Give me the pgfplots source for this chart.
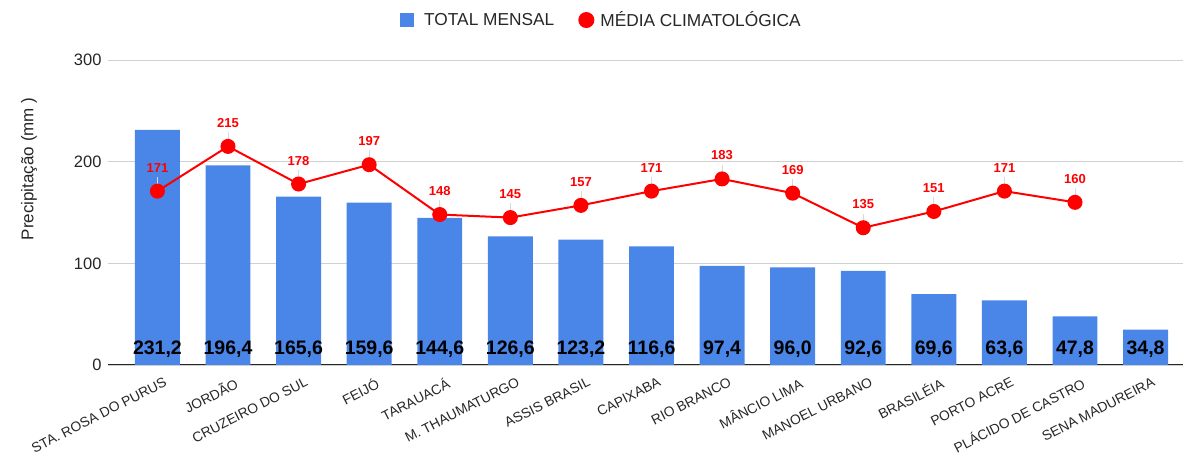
\documentclass[border=0pt]{standalone}
\usepackage{fontspec}
\setmainfont{Liberation Sans}
\usepackage{pgfplots}
\pgfplotsset{compat=1.18}
\usepackage{pgfplotstable}
\definecolor{barblue}{HTML}{4A86E8}
\definecolor{gridgray}{HTML}{D0D0D0}
\definecolor{ptred}{HTML}{FF0000}

% x, total mensal, media climatologica, base dos rotulos
\pgfplotstableread{
x total media base
0  231.2 171 0
1  196.4 215 0
2  165.6 178 0
3  159.6 197 0
4  144.6 148 0
5  126.6 145 0
6  123.2 157 0
7  116.6 171 0
8  97.4  183 0
9  96.0  169 0
10 92.6  135 0
11 69.6  151 0
12 63.6  171 0
13 47.8  160 0
14 34.8  nan 0
}\dados

\begin{document}
\begin{tikzpicture}
\useasboundingbox (-108pt,-92pt) rectangle (1075pt,365pt);
\begin{axis}[
    at={(0,0)}, anchor=south west,
    scale only axis, width=1075pt, height=305pt,
    xmin=-0.70, xmax=14.53, ymin=0, ymax=300,
    axis lines*=left,
    y axis line style={draw=none},
    x axis line style={black!85, line width=1pt},
    ytick={0,100,200,300},
    ymajorgrids, grid style={gridgray, line width=0.8pt},
    major tick length=0pt,
    xtick={0,...,14},
    xticklabels={STA. ROSA DO PURUS, JORDÃO, CRUZEIRO DO SUL, FEIJÓ, TARAUACÁ,
      M. THAUMATURGO, ASSIS BRASIL, CAPIXABA, RIO BRANCO, MÂNCIO LIMA,
      MANOEL URBANO, BRASILÉIA, PORTO ACRE, PLÁCIDO DE CASTRO, SENA MADUREIRA},
    xticklabel style={rotate=27, anchor=north east, inner sep=1pt,
      font=\fontsize{13.8}{15}\selectfont, text=black!85, xshift=1pt, yshift=-12pt},
    yticklabel style={font=\fontsize{16.5}{18}\selectfont, text=black!85, xshift=-3pt},
    /pgf/number format/assume math mode=true,
    ylabel={Precipitação (mm )},
    ylabel style={at={(axis description cs:-0.0735,0.643)}, anchor=center,
      font=\fontsize{17}{19}\selectfont, text=black!85},
    legend columns=2,
    legend style={draw=none, fill=none, at={(axis description cs:0.459,1.131)},
      anchor=center, font=\fontsize{17.3}{19}\selectfont, text=black!85,
      /tikz/every even column/.append style={column sep=22pt}},
]
\addplot[ybar, bar width=0.637, bar shift=0pt, fill=barblue, draw=none,
    legend image code/.code={\fill[barblue] (0pt,-7pt) rectangle (14pt,7pt); \path (22pt,0pt);}]
    table[x=x, y=total] {\dados};
\addlegendentry{TOTAL MENSAL}
% linhas-guia dos rotulos
\addplot[draw=none, mark=none, forget plot,
    error bars/.cd, y dir=plus, y fixed=14,
    error bar style={gray!30, line width=0.8pt}, error mark=none]
    table[x=x, y=media] {\dados};
\addplot[ptred, line width=2pt, mark=*, mark size=6.5pt,
    mark options={fill=ptred, draw=none},
    legend image code/.code={\fill[ptred] (7pt,0pt) circle (7pt); \path (18pt,0pt);},
    point meta=y, nodes near coords,
    nodes near coords style={anchor=base, yshift=19pt, inner sep=0pt, text=ptred,
      font=\fontsize{13}{14}\bfseries,
      /pgf/number format/.cd, fixed, precision=0}]
    table[x=x, y=media] {\dados};
\addlegendentry{MÉDIA CLIMATOLÓGICA}
% rotulos das barras
\addplot[draw=none, mark=none, forget plot, point meta=explicit,
    nodes near coords={\pgfmathprintnumber[fixed, fixed zerofill, precision=1, use comma]{\pgfplotspointmeta}},
    nodes near coords style={anchor=base, yshift=10pt, inner sep=0pt, text=black,
      font=\fontsize{19.5}{21}\bfseries}]
    table[x=x, y=base, meta=total] {\dados};
\end{axis}
\end{tikzpicture}
\end{document}
